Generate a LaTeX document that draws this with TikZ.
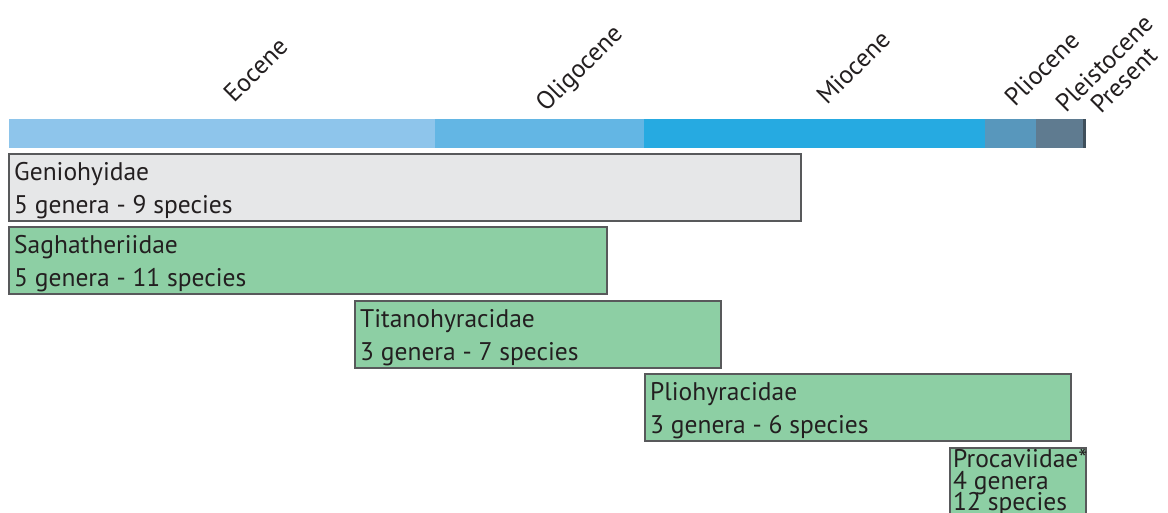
\documentclass[tikz,border=0pt]{standalone}
\usepackage{fontspec}
\setmainfont{PT Sans}
\definecolor{eoc}{HTML}{8EC5EB}
\definecolor{oli}{HTML}{63B6E4}
\definecolor{mio}{HTML}{26AAE1}
\definecolor{pli}{HTML}{5897BC}
\definecolor{ple}{HTML}{5F7B90}
\definecolor{pre}{HTML}{3F4F5B}
\definecolor{grayfill}{HTML}{E6E7E8}
\definecolor{greenfill}{HTML}{8DCFA4}
\definecolor{boxline}{HTML}{58595B}
\definecolor{txt}{HTML}{231F20}
\tikzset{
  seg/.style={draw=none, inner sep=0pt, outer sep=0pt, minimum height=29pt, anchor=north west},
  fam/.style={draw=boxline, line width=1.4pt, inner sep=0pt, outer sep=0pt, anchor=north west, minimum height=67pt},
  grayfam/.style={fam, fill=grayfill},
  greenfam/.style={fam, fill=greenfill},
  lbl/.style={font=\fontsize{25.5}{27}\selectfont, text=txt, inner sep=0pt, anchor=base west},
  epoch/.style={font=\fontsize{25.5}{27}\selectfont, text=txt, inner sep=0pt, anchor=base west, rotate=45}
}
\begin{document}
\begin{tikzpicture}[x=1pt,y=-1pt]
\useasboundingbox (0,0) rectangle (1168,512);
\clip (0,0) rectangle (1168,512);
% time bar
\node[seg, fill=eoc, minimum width=426pt] (beoc) at (9,119) {};
\node[seg, fill=oli, minimum width=209pt] (boli) at (435,119) {};
\node[seg, fill=mio, minimum width=341pt] (bmio) at (644,119) {};
\node[seg, fill=pli, minimum width=51pt] (bpli) at (985,119) {};
\node[seg, fill=ple, minimum width=47pt] (bple) at (1036,119) {};
\node[seg, fill=pre, minimum width=3pt] (bpre) at (1083,119) {};
% epoch labels
\node[epoch] (leoc) at (234,104) {Eocene};
\node[epoch] (loli) at (546,113) {Oligocene};
\node[epoch] (lmio) at (827,106) {Miocene};
\node[epoch] (lpli) at (1015,108) {Pliocene};
\node[epoch] (lple) at (1066,114) {Pleistocene};
\node[epoch] (lpre) at (1101,115) {Present};
% families
\node[grayfam, minimum width=792pt] (gen) at (9,154) {};
\node[lbl] (gen1) at (14,180) {Geniohyidae};
\node[lbl] (gen2) at (14,213) {5 genera - 9 species};
\node[greenfam, minimum width=598pt] (sag) at (9,227) {};
\node[lbl] (sag1) at (14,253) {Saghatheriidae};
\node[lbl] (sag2) at (14,286) {5 genera - 11 species};
\node[greenfam, minimum width=366pt] (tit) at (355,301) {};
\node[lbl] (tit1) at (360,327) {Titanohyracidae};
\node[lbl] (tit2) at (360,360) {3 genera - 7 species};
\node[greenfam, minimum width=426pt] (pli) at (645,374) {};
\node[lbl] (pli1) at (650,400) {Pliohyracidae};
\node[lbl] (pli2) at (650,433) {3 genera - 6 species};
\node[greenfam, minimum width=136pt, minimum height=80pt] (pro) at (950,448) {};
\node[lbl] (pro1) at (953,467) {Procaviidae*};
\node[lbl] (pro2) at (953,489) {4 genera};
\node[lbl] (pro3) at (953,510) {12 species};
\end{tikzpicture}
\end{document}
